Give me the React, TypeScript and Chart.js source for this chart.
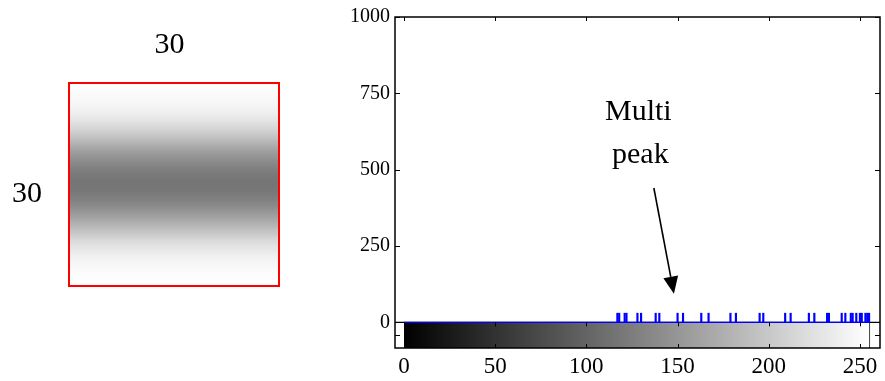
import React, { useEffect, useRef } from 'react';
import { Chart, registerables } from 'chart.js';
Chart.register(...registerables);

// Gray levels present in the 30x30 image (one histogram spike each)
const peakValues = [117, 118, 121, 122, 128, 130, 138, 140, 150, 153, 163, 167, 179, 182, 195, 197, 209, 212, 222, 225, 232, 233, 240, 242, 245, 246, 248, 250, 251, 253, 254, 255];
const peakCounts = [30, 30, 30, 30, 30, 30, 30, 30, 30, 30, 30, 30, 30, 30, 30, 30, 30, 30, 30, 30, 30, 30, 30, 30, 30, 30, 30, 30, 30, 30, 30, 30];
const grayRange = [0, 255];
const xTicks = [0, 50, 100, 150, 200, 250];
const yTicks = [0, 250, 500, 750, 1000];
const imageWidthLabel = '30';
const imageHeightLabel = '30';
const annotationLines = ['Multi', 'peak'];

const SERIF = '"Liberation Serif", "Times New Roman", serif';

// rows of the image: brightest at top and bottom, darkest in the middle
function imageRows(): number[] {
  const s = [...peakValues].sort((a, b) => a - b);
  const top: number[] = [];
  const bottom: number[] = [];
  s.forEach((v, i) => (i % 2 === 0 ? top : bottom).push(v));
  return top.reverse().concat(bottom);
}

const decor = {
  id: 'decor',
  beforeDatasetsDraw(chart: any) {
    const { ctx, chartArea: a, scales } = chart;
    const x = scales.x, y = scales.y;
    const x0 = x.getPixelForValue(grayRange[0]);
    const x1 = x.getPixelForValue(grayRange[1]);
    const yTop = y.getPixelForValue(0);
    const yBot = a.bottom;
    ctx.save();
    const g = ctx.createLinearGradient(x0, 0, x1, 0);
    g.addColorStop(0, '#000000');
    g.addColorStop(1, '#ffffff');
    ctx.fillStyle = g;
    ctx.fillRect(x0, yTop, x1 - x0, yBot - yTop);
    ctx.strokeStyle = '#444';
    ctx.lineWidth = 1;
    ctx.beginPath();
    ctx.moveTo(x1 + 0.5, yTop);
    ctx.lineTo(x1 + 0.5, yBot);
    ctx.stroke();
    ctx.strokeStyle = '#000';
    ctx.lineWidth = 1.2;
    ctx.beginPath();
    ctx.moveTo(a.left, yTop);
    ctx.lineTo(a.right, yTop);
    ctx.stroke();
    ctx.restore();
  },
  afterDraw(chart: any) {
    const { ctx, chartArea: a, scales } = chart;
    const x = scales.x, y = scales.y;
    const yTop = y.getPixelForValue(0);
    const yBot = a.bottom;
    ctx.save();
    // frame
    ctx.strokeStyle = '#000';
    ctx.lineWidth = 1.5;
    ctx.strokeRect(a.left, a.top, a.right - a.left, a.bottom - a.top);
    // inward ticks
    ctx.lineWidth = 1;
    ctx.beginPath();
    yTicks.forEach((v) => {
      const py = Math.round(y.getPixelForValue(v)) + 0.5;
      ctx.moveTo(a.left, py); ctx.lineTo(a.left + 5, py);
      ctx.moveTo(a.right, py); ctx.lineTo(a.right - 5, py);
    });
    const mid = Math.round((yTop + yBot) / 2) + 0.5;
    ctx.moveTo(a.left, mid); ctx.lineTo(a.left + 5, mid);
    ctx.moveTo(a.right, mid); ctx.lineTo(a.right - 5, mid);
    xTicks.forEach((v) => {
      const px = Math.round(x.getPixelForValue(v)) + 0.5;
      ctx.moveTo(px, a.top); ctx.lineTo(px, a.top + 4);
      ctx.moveTo(px, yTop); ctx.lineTo(px, yTop + 4);
      ctx.moveTo(px, yBot); ctx.lineTo(px, yBot - 4);
    });
    ctx.stroke();

    // annotation text
    ctx.fillStyle = '#000';
    ctx.font = `30px ${SERIF}`;
    ctx.textAlign = 'center';
    ctx.textBaseline = 'alphabetic';
    const tx = x.getPixelForValue(128.5);
    ctx.fillText(annotationLines[0], tx, y.getPixelForValue(664));
    ctx.fillText(annotationLines[1], tx + 2, y.getPixelForValue(523));

    // arrow
    const ax0 = x.getPixelForValue(137), ay0 = y.getPixelForValue(440);
    const ax1 = x.getPixelForValue(148), ay1 = y.getPixelForValue(94);
    const ang = Math.atan2(ay1 - ay0, ax1 - ax0);
    const hl = 17, hw = 7.5;
    const bx = ax1 - hl * Math.cos(ang), by = ay1 - hl * Math.sin(ang);
    ctx.lineWidth = 1.6;
    ctx.beginPath();
    ctx.moveTo(ax0, ay0);
    ctx.lineTo(bx, by);
    ctx.stroke();
    ctx.beginPath();
    ctx.moveTo(ax1, ay1);
    ctx.lineTo(bx + hw * Math.sin(ang), by - hw * Math.cos(ang));
    ctx.lineTo(bx - hw * Math.sin(ang), by + hw * Math.cos(ang));
    ctx.closePath();
    ctx.fill();

    // left image panel
    const ix = 69, iy = 83, iw = 210, ih = 203;
    const rows = imageRows();
    const gg = ctx.createLinearGradient(0, iy, 0, iy + ih);
    rows.forEach((v, i) => {
      gg.addColorStop((i + 0.5) / rows.length, `rgb(${v},${v},${v})`);
    });
    ctx.fillStyle = gg;
    ctx.fillRect(ix, iy, iw, ih);
    ctx.strokeStyle = '#ff0000';
    ctx.lineWidth = 2;
    ctx.strokeRect(ix, iy, iw, ih);
    ctx.fillStyle = '#000';
    ctx.font = `30px ${SERIF}`;
    ctx.textAlign = 'center';
    ctx.fillText(imageWidthLabel, 169.5, 52.5);
    ctx.fillText(imageHeightLabel, 27, 201.5);
    ctx.restore();
  },
};

export default function App() {
  const ref = useRef<HTMLCanvasElement>(null);
  useEffect(() => {
    if (!ref.current) return;
    const chart = new Chart(ref.current, {
      type: 'bar',
      data: {
        datasets: [
          {
            type: 'bar',
            data: peakValues.map((v, i) => ({ x: v, y: peakCounts[i] })),
            backgroundColor: '#0000ff',
            borderWidth: 0,
            barThickness: 1.5,
            grouped: false,
          } as any,
          {
            type: 'line',
            data: [{ x: grayRange[0], y: 0 }, { x: grayRange[1], y: 0 }],
            borderColor: '#0000ff',
            borderWidth: 1.2,
            pointRadius: 0,
          } as any,
        ],
      },
      options: {
        animation: false,
        responsive: false,
        events: [],
        layout: { padding: { left: 335, right: 5, top: 14, bottom: 0 } },
        plugins: { legend: { display: false }, tooltip: { enabled: false } },
        scales: {
          x: {
            type: 'linear',
            offset: false,
            min: -4.93,
            max: 261,
            grid: { display: false, drawTicks: false, offset: false },
            border: { display: false },
            afterBuildTicks: (s: any) => { s.ticks = xTicks.map((v) => ({ value: v })); },
            afterFit: (s: any) => { s.height = 33; },
            ticks: { color: '#000', padding: 5, font: { family: SERIF, size: 23 }, callback: (v: any) => String(v) },
          },
          y: {
            type: 'linear',
            min: -84,
            max: 1000,
            grid: { display: false, drawTicks: false },
            border: { display: false },
            afterBuildTicks: (s: any) => { s.ticks = yTicks.map((v) => ({ value: v })); },
            afterFit: (s: any) => { s.width = 60; },
            ticks: { color: '#000', padding: 5, font: { family: SERIF, size: 20 }, callback: (v: any) => String(v) },
          },
        },
      },
      plugins: [decor],
    });
    return () => chart.destroy();
  }, []);
  return (
    <div style={{ position: 'absolute', left: 0, top: 0, width: 885, height: 381, background: '#fff' }}>
      <canvas ref={ref} width={885} height={381} style={{ display: 'block' }} />
    </div>
  );
}
